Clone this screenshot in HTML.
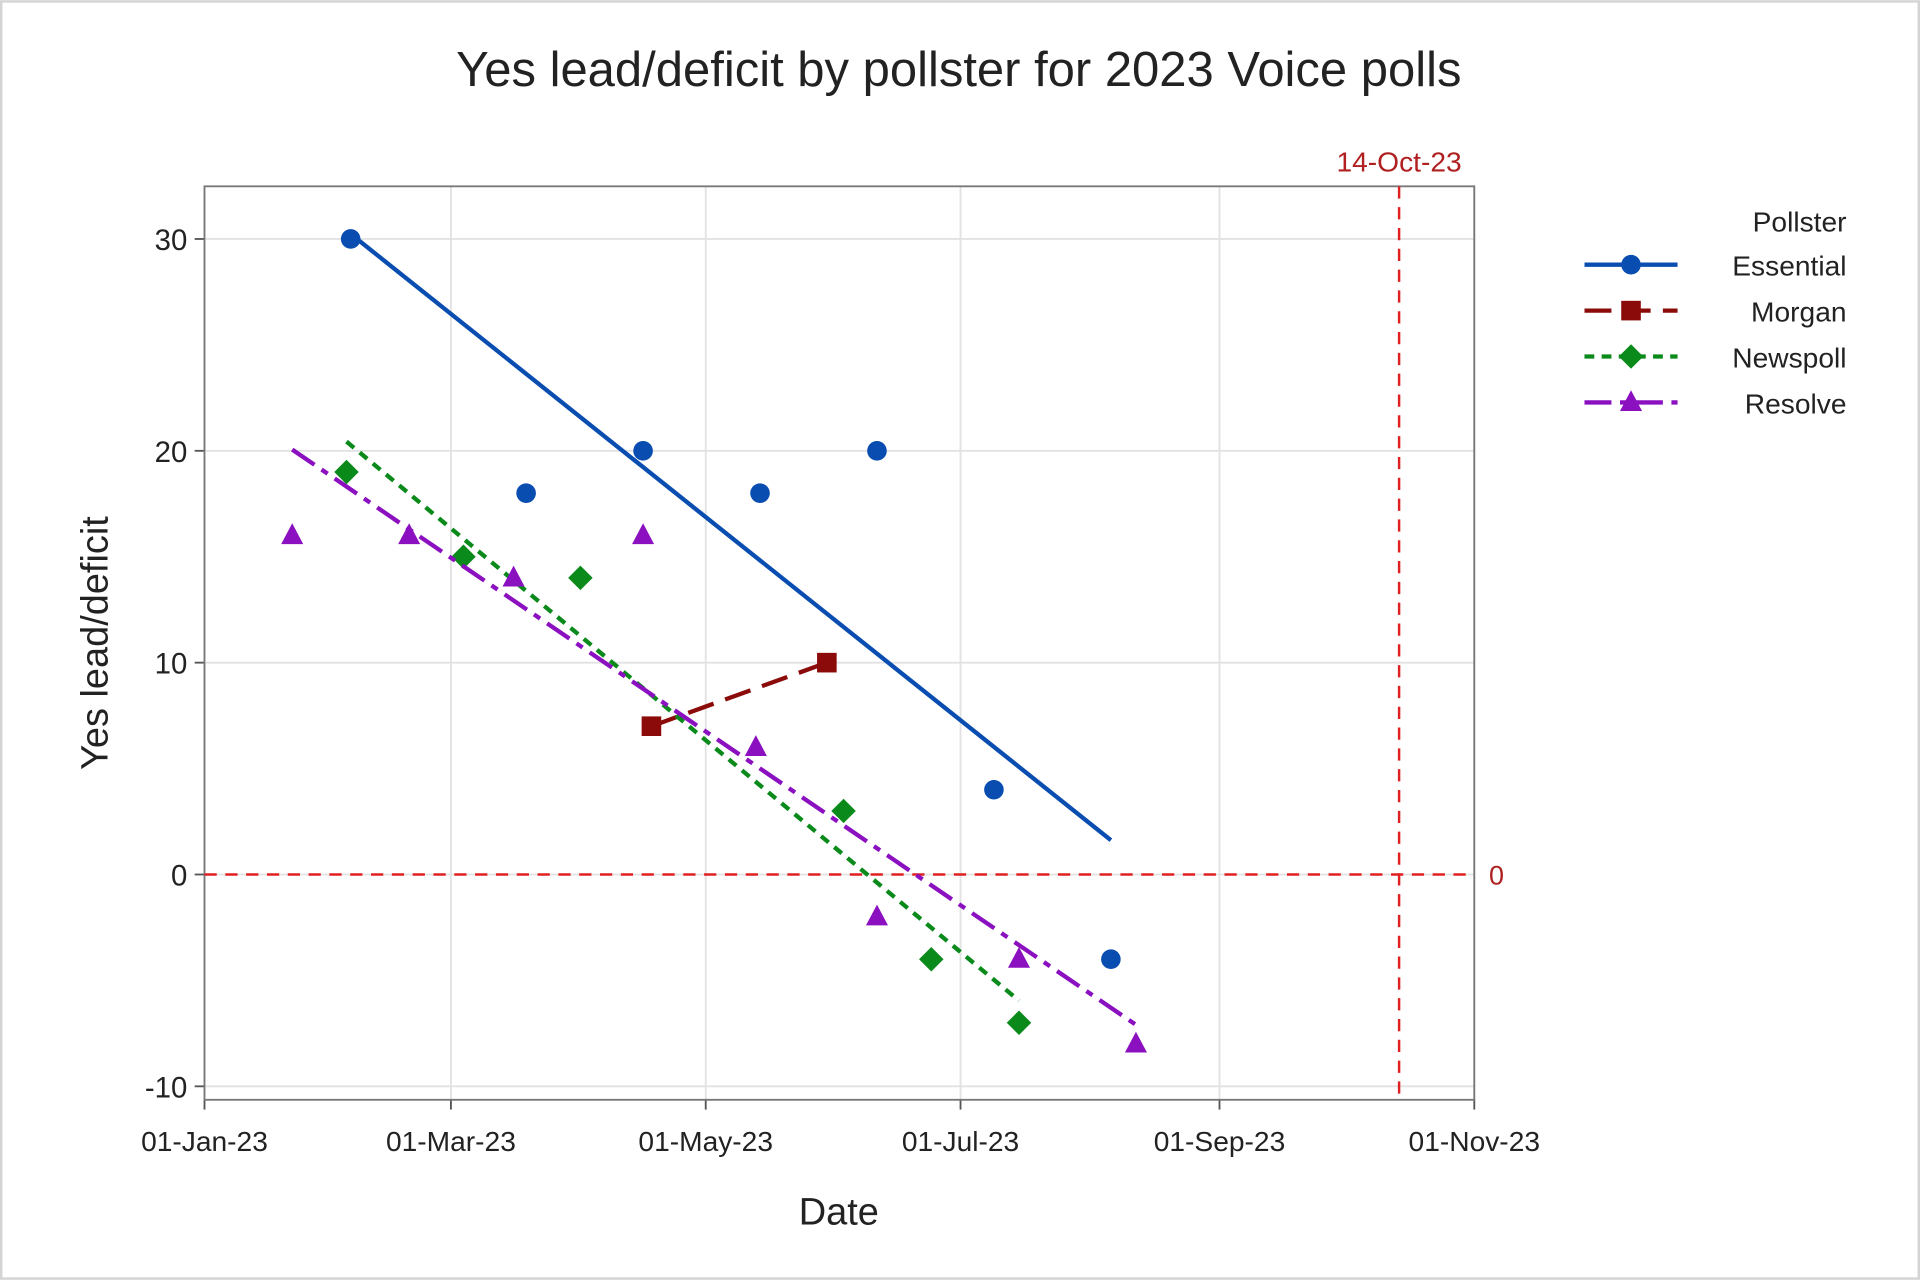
<!DOCTYPE html>
<html><head><meta charset="utf-8"><style>
html,body{margin:0;padding:0;background:#fff;}
svg{display:block;font-family:"Liberation Sans",sans-serif;}
</style></head><body>
<svg id="chart" width="1920" height="1280" viewBox="0 0 1568 1045">
<rect x="1" y="1" width="1566" height="1043" fill="#fff" stroke="#d4d4d4" stroke-width="2"/>
<text x="783" y="70" text-anchor="middle" font-size="40" fill="#222">Yes lead/deficit by pollster for 2023 Voice polls</text>
<g id="grid"></g>
<g id="axes"></g>
<g id="series"></g>
<g id="legend"></g>
</svg>
<script>
const xTickLabels=["01-Jan-23","01-Mar-23","01-May-23","01-Jul-23","01-Sep-23","01-Nov-23"];
const xTickDays=[0,59,120,181,243,304];
const yTicks=[-10,0,10,20,30];
const essentialDays=[35,77,105,133,161,189,217];
const essentialVals=[30,18,20,18,20,4,-4];
const morganDays=[107,149];
const morganVals=[7,10];
const newspollDays=[34,62,90,153,174,195];
const newspollVals=[19,15,14,3,-4,-7];
const resolveDays=[21,49,74,105,132,161,195,223];
const resolveVals=[16,16,14,16,6,-2,-4,-8];
const refDay=286;

const NS="http://www.w3.org/2000/svg";
const L=167,R=1204,T=152,B=898;
const xs=d=>L+d*(R-L)/304;
const ys=v=>714-v*17.3;
function mk(tag,attrs,parent){const e=document.createElementNS(NS,tag);for(const k in attrs)e.setAttribute(k,attrs[k]);parent.appendChild(e);return e;}
const grid=document.getElementById('grid'),axes=document.getElementById('axes'),ser=document.getElementById('series'),leg=document.getElementById('legend');

xTickDays.forEach((d,i)=>{
  const g=mk('line',{x1:xs(d),x2:xs(d),y1:T,y2:B,stroke:'#e2e2e2','stroke-width':1.5},grid);
  
  
  const t=mk('line',{x1:xs(d),x2:xs(d),y1:B,y2:B+8,stroke:'#555','stroke-width':1.5},axes);
  
  
  const tx=mk('text',{x:xs(d),y:B+42,'text-anchor':'middle','font-size':23,fill:'#222'},axes);
  tx.textContent=xTickLabels[i];
  
  
});
yTicks.forEach(v=>{
  const g=mk('line',{x1:L,x2:R,y1:ys(v),y2:ys(v),stroke:'#e2e2e2','stroke-width':1.5},grid);
  
  
  const t=mk('line',{x1:L-8,x2:L,y1:ys(v),y2:ys(v),stroke:'#555','stroke-width':1.5},axes);
  
  
  const tx=mk('text',{x:L-14,y:ys(v)+9,'text-anchor':'end','font-size':24,fill:'#222'},axes);
  tx.textContent=v;
  
  
});
const box=mk('rect',{x:L,y:T,width:R-L,height:B-T,fill:'none',stroke:'#777','stroke-width':1.5},axes);


const xt=mk('text',{x:685,y:1000,'text-anchor':'middle','font-size':31,fill:'#222'},axes);
xt.textContent='Date';


const yt=mk('text',{x:88,y:525,'text-anchor':'middle','font-size':31,fill:'#222',transform:'rotate(-90 88 525)'},axes);
yt.textContent='Yes lead/deficit';



// reference lines
const h0=mk('line',{x1:L,x2:R,y1:ys(0),y2:ys(0),stroke:'#e02020','stroke-width':2,'stroke-dasharray':'10 7'},ser);


const h0t=mk('text',{x:R+12,y:ys(0)+8,'font-size':22,fill:'#b02020'},ser);
h0t.textContent='0';


const vr=mk('line',{x1:xs(refDay),x2:xs(refDay),y1:T,y2:B,stroke:'#e02020','stroke-width':2,'stroke-dasharray':'10 7'},ser);


const vrt=mk('text',{x:xs(refDay),y:T-12,'text-anchor':'middle','font-size':23,fill:'#b02020'},ser);
vrt.textContent='14-Oct-23';



function marker(shape,x,y,color,parent,s){
  s=s||1;let e;
  if(shape==='circle')e=mk('circle',{cx:x,cy:y,r:8*s,fill:color},parent);
  else if(shape==='square')e=mk('rect',{x:x-8*s,y:y-8*s,width:16*s,height:16*s,fill:color},parent);
  else if(shape==='diamond')e=mk('polygon',{points:`${x},${y-10*s} ${x+10*s},${y} ${x},${y+10*s} ${x-10*s},${y}`,fill:color},parent);
  else e=mk('polygon',{points:`${x},${y-10*s} ${x+9*s},${y+7*s} ${x-9*s},${y+7*s}`,fill:color},parent);
  return e;
}
function fit(d,v){const n=d.length,mx=d.reduce((a,b)=>a+b)/n,my=v.reduce((a,b)=>a+b)/n;let sxy=0,sxx=0;for(let i=0;i<n;i++){sxy+=(d[i]-mx)*(v[i]-my);sxx+=(d[i]-mx)**2;}const b=sxy/sxx;return x=>my+b*(x-mx);}
const series=[
 {name:'essential',label:'Essential',d:essentialDays,v:essentialVals,color:'#0a4db0',shape:'circle',dash:'',fit:true},
 {name:'morgan',label:'Morgan',d:morganDays,v:morganVals,color:'#8b0a0a',shape:'square',dash:'22 10',fit:true},
 {name:'newspoll',label:'Newspoll',d:newspollDays,v:newspollVals,color:'#0a8a1a',shape:'diamond',dash:'8 6',fit:true},
 {name:'resolve',label:'Resolve',d:resolveDays,v:resolveVals,color:'#8a10c0',shape:'triangle',dash:'22 7 6 7',fit:true}
];
series.forEach(s=>{
  const f=fit(s.d,s.v);const x0=Math.min(...s.d),x1=Math.max(...s.d);
  const ln=mk('line',{x1:xs(x0),y1:ys(f(x0)),x2:xs(x1),y2:ys(f(x1)),stroke:s.color,'stroke-width':3.5,'stroke-dasharray':s.dash},ser);
  
  
  s.d.forEach((d,i)=>{
    const m=marker(s.shape,xs(d),ys(s.v[i]),s.color,ser);
    
    
  });
});
// legend
const lt=mk('text',{x:1508,y:189,'text-anchor':'end','font-size':23,fill:'#222'},leg);
lt.textContent='Pollster';


series.forEach((s,i)=>{
  const y=216+i*37.5;
  const g=mk('g',{},leg);
  
  
  mk('line',{x1:1294,x2:1370,y1:y,y2:y,stroke:s.color,'stroke-width':3.5,'stroke-dasharray':s.dash},g);
  marker(s.shape,1332,y,s.color,g);
  const t=mk('text',{x:1508,y:y+9,'text-anchor':'end','font-size':23,fill:'#222'},g);
  t.textContent=s.label;
});
</script>
</body></html>
